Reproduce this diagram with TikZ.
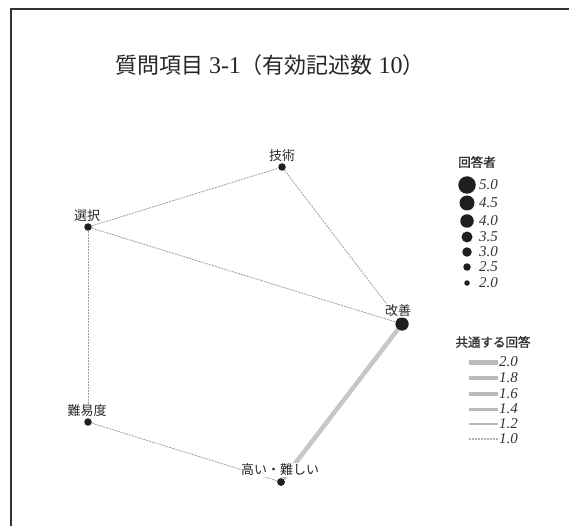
\documentclass[tikz,border=0pt]{standalone}
\usepackage{fontspec}
\setmainfont{Liberation Serif}
\newfontfamily\jp{Noto Sans CJK JP}
\newfontfamily\jpb{Noto Sans CJK JP}[FakeBold=1.5]
\begin{document}
\begin{tikzpicture}[x=1pt,y=-1pt,
  dot/.style={circle,fill=black!88,inner sep=0pt,minimum size=#1},
  lbl/.style={font=\jp\fontsize{13}{14}\selectfont,text=black!85,inner sep=0.5pt,fill=white},
  weak/.style={draw=black!38,line width=0.8pt,dash pattern=on 2pt off 1pt},
  strong/.style={draw=black!22,line width=4.5pt},
  legnum/.style={font=\itshape\fontsize{15}{15}\selectfont,text=black!80,anchor=west,inner sep=0pt},
  legtitle/.style={font=\jpb\fontsize{12.5}{13}\selectfont,text=black!80,inner sep=0pt}
]
\useasboundingbox (0,0) rectangle (569,526);
\fill[white] (0,0) rectangle (569,526);
\draw[black!80,line width=1.6pt] (11,526) -- (11,9) -- (569,9);

% title
\node[font=\fontsize{22}{24}\selectfont,text=black!85,inner sep=0pt] (title) at (270,65)
  {{\jp 質問項目} {\fontsize{24}{24}\selectfont 3-1}{\jp （有効記述数} {\fontsize{24}{24}\selectfont 10}{\jp ）}};

% nodes
\node[dot=7.5pt] (gijutsu) at (282,167) {};
\node[dot=7.5pt] (sentaku) at (88,227) {};
\node[dot=13pt] (kaizen) at (402,324) {};
\node[dot=7.5pt] (nanido) at (88,422) {};
\node[dot=7.5pt] (takai) at (281,482) {};

% edges
\draw[weak] (sentaku) -- (gijutsu);
\draw[weak] (gijutsu) -- (kaizen);
\draw[weak] (sentaku) -- (kaizen);
\draw[weak] (sentaku) -- (nanido);
\draw[weak] (nanido) -- (takai);
\draw[strong] (kaizen) -- (takai);

% labels
\node[lbl] (gijutsuL) at (282,156) {技術};
\node[lbl] (sentakuL) at (87,216) {選択};
\node[lbl] (kaizenL) at (398,311) {改善};
\node[lbl] (nanidoL) at (87,411) {難易度};
\node[lbl] (takaiL) at (280,470) {高い・難しい};
\node[dot=13pt] (kaizen2) at (kaizen) {};
\node[dot=7.5pt] (takai2) at (takai) {};

% legend: respondents
\node[legtitle] (leg1) at (477,162) {回答者};
\foreach \y/\d/\t in {185/17.5pt/5.0, 203/15pt/4.5, 221/13.5pt/4.0, 237/11pt/3.5, 252/9.5pt/3.0, 267/7.5pt/2.5, 283/5.5pt/2.0}{
  \node[dot=\d] (c\t) at (467,\y) {};
  \node[legnum] (n\t) at (479,\y) {\t};
}

% legend: common answers
\node[legtitle] (leg2) at (493,342) {共通する回答};
\foreach \y/\w/\t in {362/5pt/2.0, 378/4.4pt/1.8, 394/3.8pt/1.6, 409/3pt/1.4, 424/2.2pt/1.2}{
  \draw[black!27,line width=\w] (469,\y) -- (498,\y);
  \node[legnum] (m\t) at (499,\y) {\t};
}
\draw[black!30,line width=1.2pt,dash pattern=on 2pt off 1pt] (469,439) -- (498,439);
\node[legnum] (m1.0) at (499,439) {1.0};
\end{tikzpicture}
\end{document}
